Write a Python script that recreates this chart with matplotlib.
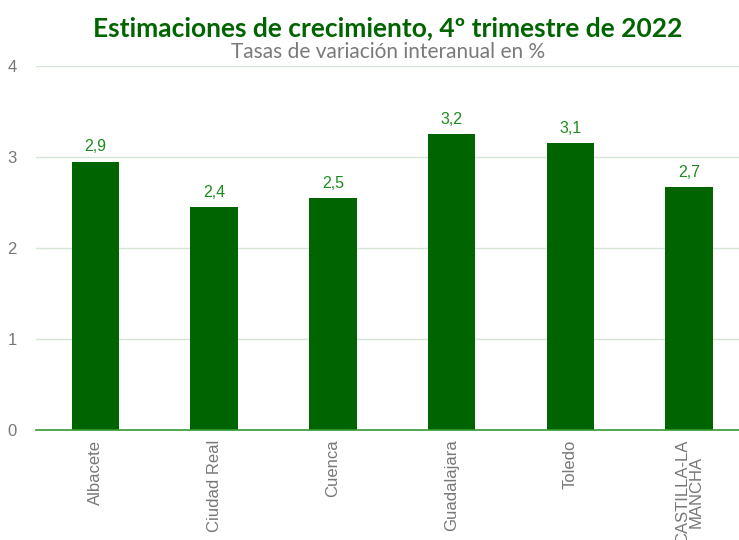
import matplotlib.pyplot as plt
import numpy as np

# Data
provincias = ["Albacete", "Ciudad Real", "Cuenca", "Guadalajara", "Toledo", "CASTILLA-LA\nMANCHA"]
crecimiento = [2.95, 2.45, 2.55, 3.25, 3.15, 2.67]
etiquetas = ["2,9", "2,4", "2,5", "3,2", "3,1", "2,7"]
yticks = [0, 1, 2, 3, 4]

verde = "#006400"
sans = ["Liberation Sans", "DejaVu Sans"]
fig = plt.figure(figsize=(7.39, 5.4), dpi=100)
ax = fig.add_axes([36 / 739, 1 - 430 / 540, (739 - 36) / 739, (430 - 66) / 540])

x = np.arange(len(provincias))
ax.bar(x, crecimiento, width=0.4, color=verde, zorder=3)
for xi, v, lab in zip(x, crecimiento, etiquetas):
    ax.text(xi, v + 0.08, lab, ha="center", va="bottom", color="#1e8c1e",
            fontsize=11.5, family=sans)

ax.set_xlim(-0.5, 5.42)
ax.set_ylim(0, 4)
ax.set_yticks(yticks)
ax.set_yticklabels([str(t) for t in yticks], color="#777777", fontsize=12,
                   family=sans)
ax.set_xticks(x)
ax.set_xticklabels(provincias, rotation=90, color="#777777", fontsize=12,
                   family=sans, ha="center", va="top",
                   multialignment="center", linespacing=0.85)
ax.tick_params(length=0, pad=7)
ax.tick_params(axis="y", pad=14)
ax.grid(axis="y", color="#d6e6d6", linewidth=1, zorder=0)
for s in ["top", "right", "left"]:
    ax.spines[s].set_visible(False)
ax.spines["bottom"].set_color("#339933")
ax.spines["bottom"].set_linewidth(1.2)
ax.spines["bottom"].set_zorder(4)

fig.text(388 / 739, 1 - 28 / 540, "Estimaciones de crecimiento, 4º trimestre de 2022",
         ha="center", va="center", fontsize=19, fontweight="bold", color=verde,
         family=["Lato", "DejaVu Sans"])
fig.text(388 / 739, 1 - 52 / 540, "Tasas de variación interanual en %",
         ha="center", va="center", fontsize=15, color="#7a7a7a",
         family=["Lato", "DejaVu Sans"])

fig.savefig("out.png", dpi=100)
